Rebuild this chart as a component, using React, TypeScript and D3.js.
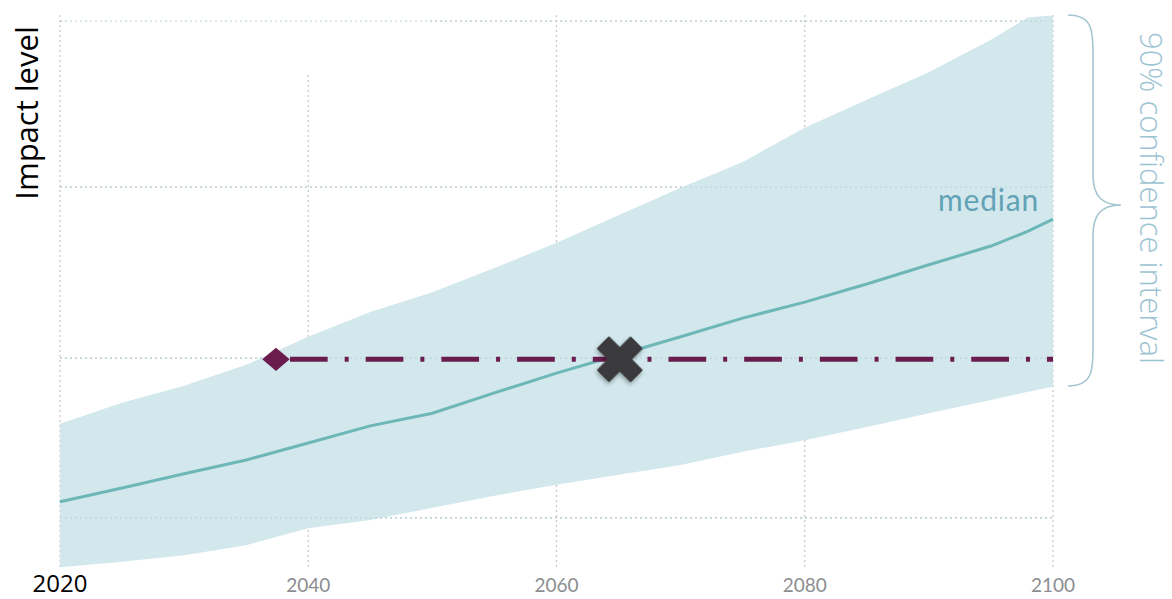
import React from "react";
import * as d3 from "d3";

const years = [2020, 2025, 2030, 2035, 2040, 2045, 2050, 2055, 2060, 2065, 2070, 2075, 2080, 2085, 2090, 2095, 2098, 2100];
const upperValues = [26.6, 30.4, 33.5, 37.3, 42.4, 46.9, 50.5, 54.9, 59.5, 64.5, 69.5, 74.2, 80.4, 85.5, 90.5, 96.4, 100.5, 100.8];
const medianValues = [12.4, 14.9, 17.5, 20.0, 23.1, 26.2, 28.5, 32.2, 35.8, 39.1, 42.4, 45.8, 48.7, 52.0, 55.5, 58.9, 61.6, 63.8];
const lowerValues = [0.5, 1.5, 2.7, 4.5, 7.6, 9.1, 11.3, 13.5, 15.5, 17.3, 19.1, 21.5, 23.6, 26.0, 28.5, 30.9, 32.4, 33.3];

const xTicks = [2020, 2040, 2060, 2080, 2100];
const yGridValues = [9.5, 38.5, 69.6, 99.8];

const thresholdValue = 38.3;
const thresholdStartYear = 2037.4;
const crossingYear = 2065.1;

const W = 1172;
const H = 599;

export default function App() {
  const x = d3.scaleLinear().domain([2020, 2100]).range([60, 1053]);
  const y = d3.scaleLinear().domain([0, 100]).range([570, 20]);

  const band = years.map((yr, i) => ({ yr, lo: lowerValues[i], hi: upperValues[i], med: medianValues[i] }));
  const areaGen = d3
    .area<any>()
    .x((d) => x(d.yr))
    .y0((d) => y(d.lo))
    .y1((d) => y(d.hi));
  const lineGen = d3
    .line<any>()
    .x((d) => x(d.yr))
    .y((d) => y(d.med));

  const gridColor = "#c9c9c9";
  const vTop = y(100.9);
  const vBottom = y(0.5);

  const xStart = x(thresholdStartYear);
  const ty = y(thresholdValue);
  const crossX = x(crossingYear);

  const crossPath = d3.symbol().type(d3.symbolCross).size(1180)() as string;
  const diamondPath = d3.symbol().type(d3.symbolSquare).size(310)() as string;

  // brace geometry
  const bTop = 15;
  const bBot = 386;
  const bMid = 205;
  const bx0 = 1068;
  const bx1 = 1093;
  const bx2 = 1121;
  const bracePath = `M${bx0},${bTop} C${bx1},${bTop} ${bx1},${bTop + 15} ${bx1},${bTop + 45} L${bx1},${bMid - 30} C${bx1},${bMid - 8} ${bx1 + 10},${bMid} ${bx2},${bMid} C${bx1 + 10},${bMid} ${bx1},${bMid + 8} ${bx1},${bMid + 30} L${bx1},${bBot - 45} C${bx1},${bBot - 15} ${bx1},${bBot} ${bx0},${bBot}`;

  return (
    <svg
      width={W}
      height={H}
      style={{ position: "absolute", left: 0, top: 0, background: "#fff" }}
      fontFamily="Lato, 'Open Sans', sans-serif"
    >
      <defs>
        <filter id="shadow" x="-40%" y="-40%" width="180%" height="180%">
          <feDropShadow dx="1" dy="2" stdDeviation="2" floodColor="#000" floodOpacity="0.35" />
        </filter>
      </defs>

      {/* grid */}
      <g stroke={gridColor} strokeWidth={1.3} strokeDasharray="2 3" fill="none">
        {yGridValues.map((v) => (
          <line key={"h" + v} x1={x(2020)} x2={x(2100)} y1={y(v)} y2={y(v)} />
        ))}
        {xTicks.map((t) => (
          <line key={"v" + t} x1={x(t)} x2={x(t)} y1={vTop} y2={vBottom} />
        ))}
      </g>
      {/* mask over top-left grid area */}
      <rect x={66} y={0} width={364} height={75} fill="#fff" />

      {/* confidence band */}
      <path d={areaGen(band) as string} fill="#d2e8ec" />

      {/* grid visible through band (light) */}
      <g stroke="#b9d3d8" strokeWidth={1.3} strokeDasharray="2 3" fill="none" opacity={0.8}>
        {yGridValues.map((v) => (
          <line key={"hb" + v} x1={x(2020)} x2={x(2100)} y1={y(v)} y2={y(v)} />
        ))}
      </g>

      {/* median line */}
      <path d={lineGen(band) as string} fill="none" stroke="#6db7b9" strokeWidth={3} />

      {/* threshold dash-dot line */}
      <line
        x1={xStart}
        x2={x(2100)}
        y1={ty}
        y2={ty}
        stroke="#6a1c4e"
        strokeWidth={5}
        strokeDasharray="37.7 17 4 17"
        strokeDashoffset={61.7}
      />
      <path d={diamondPath} transform={`translate(${xStart},${ty}) scale(1.1,0.93) rotate(45)`} fill="#6a1c4e" />

      {/* crossing marker */}
      <path
        d={crossPath}
        transform={`translate(${crossX},${ty}) rotate(45)`}
        fill="#3a3a3c"
        stroke="#3a3a3c"
        strokeWidth={2}
        strokeLinejoin="round"
        filter="url(#shadow)"
      />

      {/* median label */}
      <text x={1039} y={211} textAnchor="end" fontSize={30} fill="#62a2b6" fontFamily="Lato, sans-serif" letterSpacing={0.8}>
        median
      </text>

      {/* brace */}
      <path d={bracePath} fill="none" stroke="#a6c6d1" strokeWidth={1.6} />

      {/* confidence interval label */}
      <text
        transform={`translate(1140, 198) rotate(90)`}
        textAnchor="middle"
        fontSize={31}
        fontWeight={300}
        fill="#9cc3d1"
        fontFamily="'Open Sans', sans-serif"
      >
        90% confidence interval
      </text>

      {/* y label */}
      <text
        transform={`translate(38, 113) rotate(-90)`}
        textAnchor="middle"
        fontSize={31}
        fill="#000"
        fontFamily="'Open Sans', sans-serif"
      >
        Impact level
      </text>

      {/* x tick labels */}
      {xTicks.map((t) =>
        t === 2020 ? (
          <text key={t} x={x(t)} y={592} textAnchor="middle" fontSize={24} fill="#000" fontFamily="'Open Sans', sans-serif">
            {t}
          </text>
        ) : (
          <text key={t} x={x(t)} y={592} textAnchor="middle" fontSize={19} fill="#8b8d90" fontFamily="Lato, sans-serif">
            {t}
          </text>
        )
      )}
    </svg>
  );
}
